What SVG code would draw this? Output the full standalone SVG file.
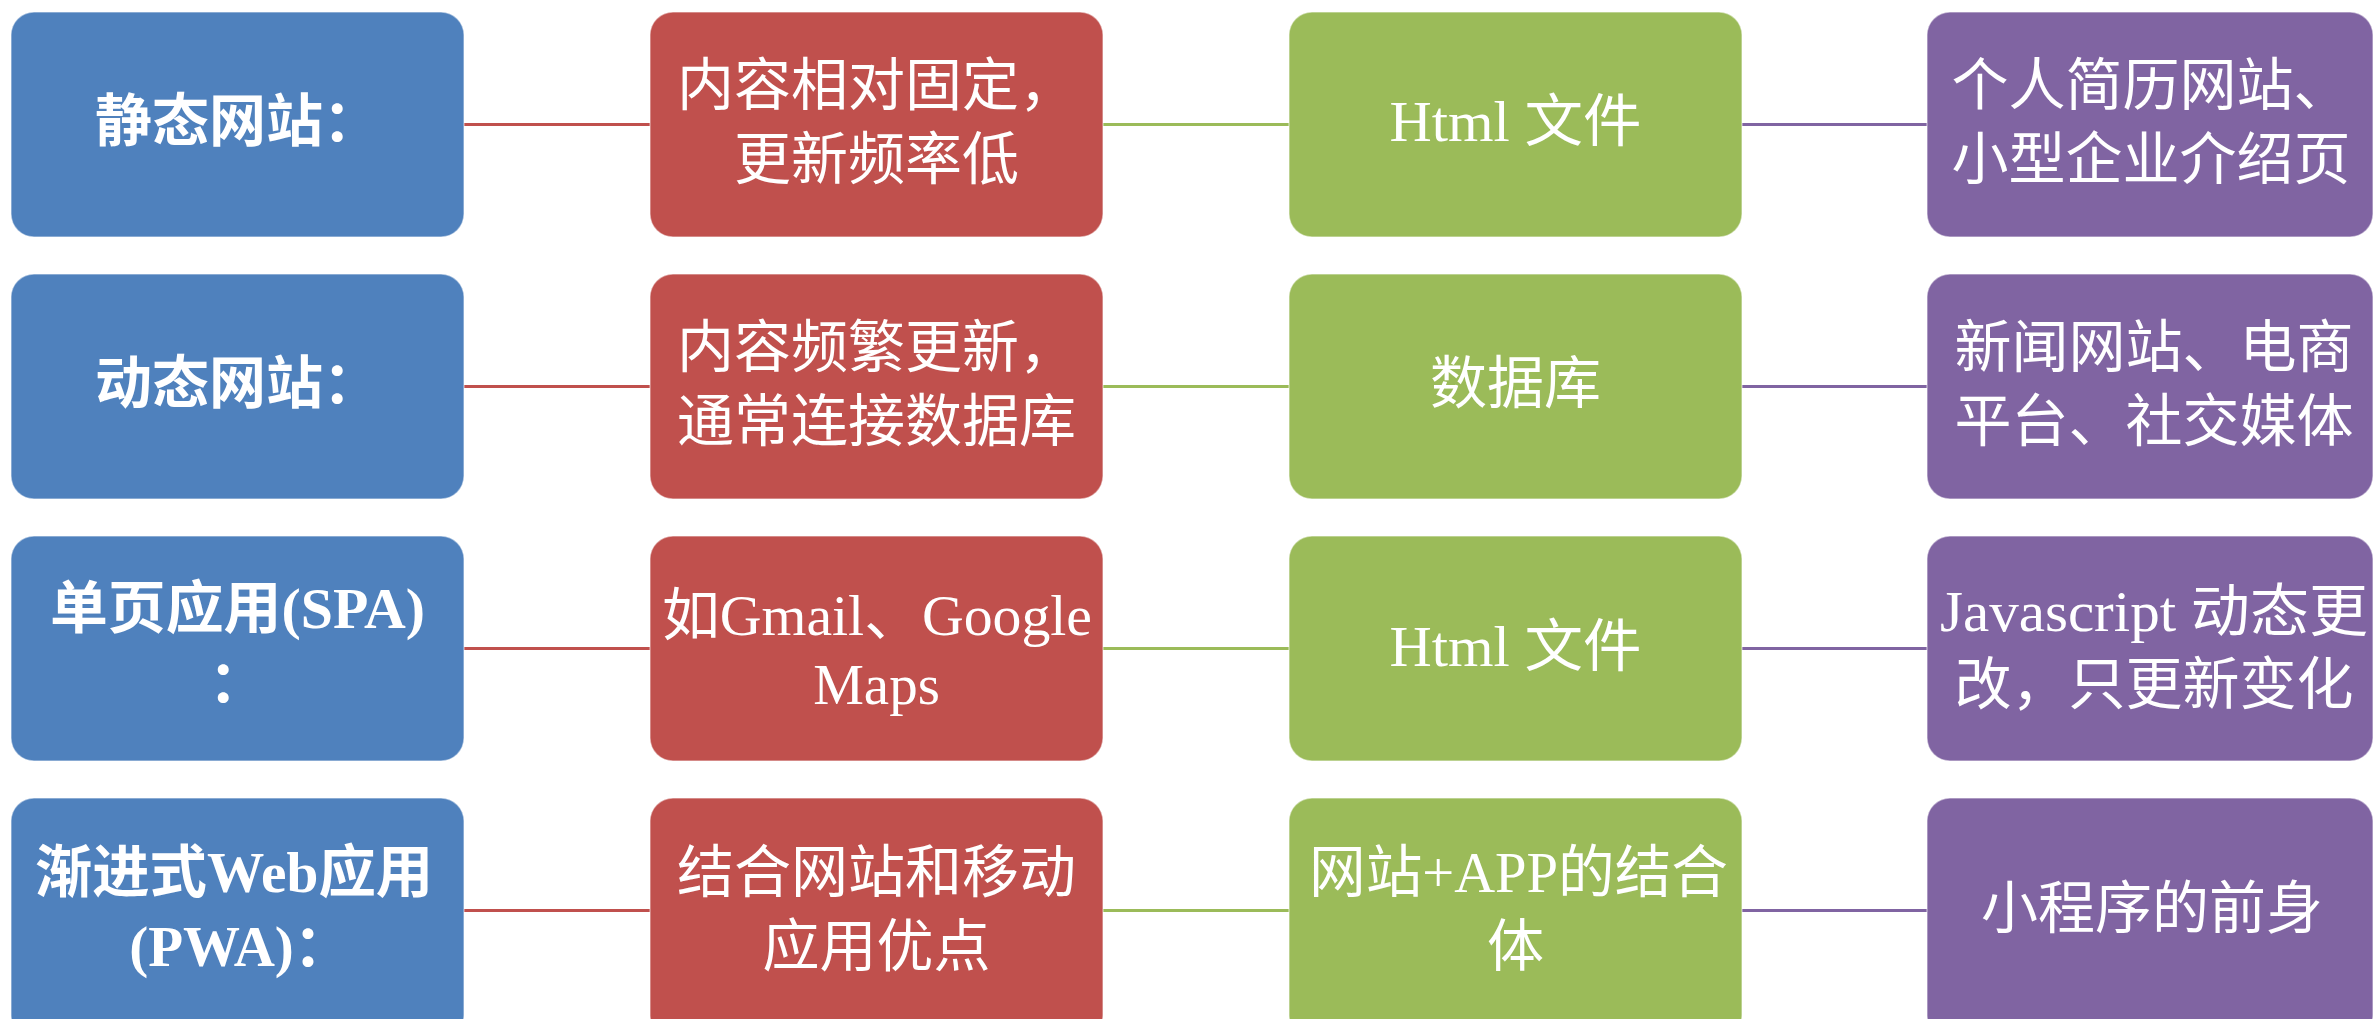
<svg xmlns="http://www.w3.org/2000/svg" width="2374" height="1019" viewBox="0 0 2374 1019">
<style>
.box{stroke:#ffffff;stroke-opacity:0.45;stroke-width:1.5}
.b{fill:#4F81BD}.r{fill:#C0504D}.g{fill:#9BBB59}.p{fill:#8064A2}
text{font-family:"Liberation Serif","Noto Sans CJK SC",serif;font-size:57px;fill:#ffffff;text-anchor:middle}
.bold{font-weight:bold}
.lr{stroke:#C0504D}.lg{stroke:#9BBB59}.lp{stroke:#8064A2}
#connectors line{stroke-width:3}
</style>
<rect width="2374" height="1019" fill="#ffffff"/>
<g id="connectors">
<line class="lr" x1="464" y1="124.5" x2="650" y2="124.5"/>
<line class="lg" x1="1103" y1="124.5" x2="1289" y2="124.5"/>
<line class="lp" x1="1742" y1="124.5" x2="1927" y2="124.5"/>
<line class="lr" x1="464" y1="386.5" x2="650" y2="386.5"/>
<line class="lg" x1="1103" y1="386.5" x2="1289" y2="386.5"/>
<line class="lp" x1="1742" y1="386.5" x2="1927" y2="386.5"/>
<line class="lr" x1="464" y1="648.5" x2="650" y2="648.5"/>
<line class="lg" x1="1103" y1="648.5" x2="1289" y2="648.5"/>
<line class="lp" x1="1742" y1="648.5" x2="1927" y2="648.5"/>
<line class="lr" x1="464" y1="910.5" x2="650" y2="910.5"/>
<line class="lg" x1="1103" y1="910.5" x2="1289" y2="910.5"/>
<line class="lp" x1="1742" y1="910.5" x2="1927" y2="910.5"/>
</g>
<g id="static-site">
<rect class="box b" x="11" y="12" width="453" height="225" rx="23"/>
<text class="bold" x="237.5" y="141">静态网站：</text>
</g>
<g id="static-desc">
<rect class="box r" x="650" y="12" width="453" height="225" rx="23"/>
<text x="876.5" y="105">内容相对固定，</text>
<text x="876.5" y="179">更新频率低</text>
</g>
<g id="static-tech">
<rect class="box g" x="1289" y="12" width="453" height="225" rx="23"/>
<text x="1515.5" y="141" textLength="252" lengthAdjust="spacingAndGlyphs">Html 文件</text>
</g>
<g id="static-example">
<rect class="box p" x="1927" y="12" width="446" height="225" rx="23"/>
<text x="2151" y="105">个人简历网站、</text>
<text x="2151" y="179">小型企业介绍页</text>
</g>
<g id="dynamic-site">
<rect class="box b" x="11" y="274" width="453" height="225" rx="23"/>
<text class="bold" x="237.5" y="403">动态网站：</text>
</g>
<g id="dynamic-desc">
<rect class="box r" x="650" y="274" width="453" height="225" rx="23"/>
<text x="876.5" y="367">内容频繁更新，</text>
<text x="876.5" y="441">通常连接数据库</text>
</g>
<g id="dynamic-tech">
<rect class="box g" x="1289" y="274" width="453" height="225" rx="23"/>
<text x="1515.5" y="403">数据库</text>
</g>
<g id="dynamic-example">
<rect class="box p" x="1927" y="274" width="446" height="225" rx="23"/>
<text x="2154" y="367">新闻网站、电商</text>
<text x="2154" y="441">平台、社交媒体</text>
</g>
<g id="spa">
<rect class="box b" x="11" y="536" width="453" height="225" rx="23"/>
<text class="bold" x="237.5" y="628" textLength="375" lengthAdjust="spacingAndGlyphs">单页应用(SPA)</text>
<text class="bold" x="237.5" y="702">：</text>
</g>
<g id="spa-desc">
<rect class="box r" x="650" y="536" width="453" height="225" rx="23"/>
<text x="877" y="635" textLength="430" lengthAdjust="spacingAndGlyphs">如Gmail、Google</text>
<text x="876.5" y="704">Maps</text>
</g>
<g id="spa-tech">
<rect class="box g" x="1289" y="536" width="453" height="225" rx="23"/>
<text x="1515.5" y="666" textLength="252" lengthAdjust="spacingAndGlyphs">Html 文件</text>
</g>
<g id="spa-example">
<rect class="box p" x="1927" y="536" width="446" height="225" rx="23"/>
<text x="2154" y="631" textLength="428" lengthAdjust="spacingAndGlyphs">Javascript 动态更</text>
<text x="2154" y="704">改，只更新变化</text>
</g>
<g id="pwa">
<rect class="box b" x="11" y="798" width="453" height="240" rx="23"/>
<text class="bold" x="234" y="892" textLength="398" lengthAdjust="spacingAndGlyphs">渐进式Web应用</text>
<text class="bold" x="240" y="966">(PWA)：</text>
</g>
<g id="pwa-desc">
<rect class="box r" x="650" y="798" width="453" height="240" rx="23"/>
<text x="876.5" y="892">结合网站和移动</text>
<text x="876.5" y="966">应用优点</text>
</g>
<g id="pwa-tech">
<rect class="box g" x="1289" y="798" width="453" height="240" rx="23"/>
<text x="1518.5" y="892" textLength="419" lengthAdjust="spacingAndGlyphs">网站+APP的结合</text>
<text x="1515.5" y="966">体</text>
</g>
<g id="pwa-example">
<rect class="box p" x="1927" y="798" width="446" height="240" rx="23"/>
<text x="2152" y="928">小程序的前身</text>
</g>
</svg>
